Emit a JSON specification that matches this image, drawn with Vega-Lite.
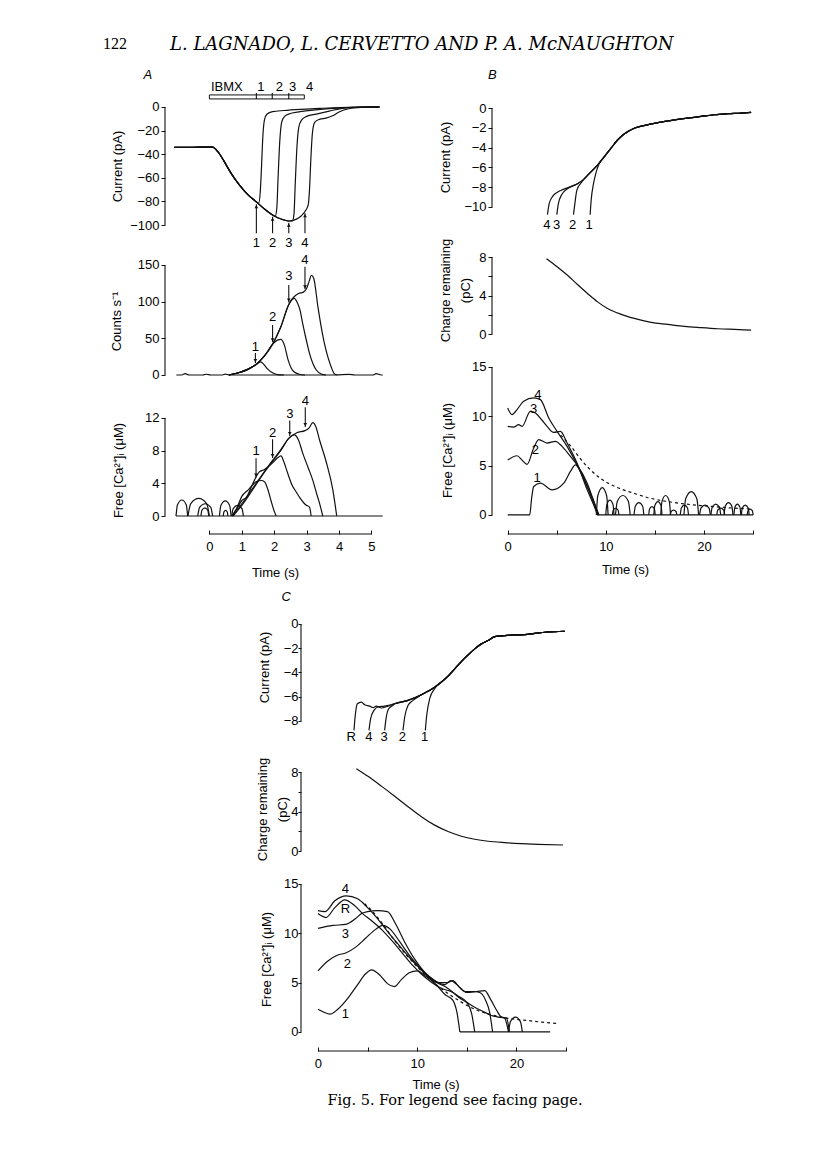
{
"$schema": "https://vega.github.io/schema/vega-lite/v6.json",
"background": "white",
"padding": {"left": 103, "top": 35, "right": 5, "bottom": 5},
"config": {
  "view": {"stroke": null},
  "font": "Liberation Sans",
  "axis": {"domain": false, "grid": false, "tickColor": "#111", "tickSize": 4, "tickWidth": 1, "labelColor": "#000", "labelFont": "Liberation Sans", "labelFontSize": 13, "labelPadding": 2, "titleColor": "#000", "titleFont": "Liberation Sans", "titleFontSize": 13, "titleFontWeight": "normal", "labelOverlap": false, "labelFlush": false, "titleLineHeight": 20},
  "axisY": {"titleBaseline": "middle"},
  "axisX": {"tickSize": -4, "labelPadding": 10, "titleBaseline": "middle"},
  "line": {"color": "#111", "strokeWidth": 1.2, "interpolate": "monotone"},
  "rule": {"color": "#111", "strokeWidth": 1.1},
  "text": {"font": "Liberation Sans", "fontSize": 13, "color": "#000", "baseline": "middle", "align": "center"}
},
"datasets": {
  "aCur": [
    {"s":"1","t":-1.08,"v":-34.2},{"s":"1","t":-0.5,"v":-34.1},{"s":"1","t":0.1,"v":-34},{"s":"1","t":0.26,"v":-37.9},{"s":"1","t":0.46,"v":-46.3},{"s":"1","t":0.67,"v":-56.2},{"s":"1","t":0.93,"v":-66.1},{"s":"1","t":1.18,"v":-74},{"s":"1","t":1.44,"v":-80.2},{"s":"1","t":1.52,"v":-81.5},{"s":"1","t":1.57,"v":-72},{"s":"1","t":1.61,"v":-50},{"s":"1","t":1.65,"v":-25},{"s":"1","t":1.7,"v":-11},{"s":"1","t":1.78,"v":-6},{"s":"1","t":1.95,"v":-4},{"s":"1","t":2.3,"v":-3},{"s":"1","t":2.8,"v":-2},{"s":"1","t":3.4,"v":-1.2},{"s":"1","t":4,"v":-0.5},{"s":"1","t":4.6,"v":-0.1},{"s":"1","t":5.25,"v":0},
    {"s":"2","t":-1.08,"v":-34.2},{"s":"2","t":-0.5,"v":-34.1},{"s":"2","t":0.1,"v":-34},{"s":"2","t":0.26,"v":-37.9},{"s":"2","t":0.46,"v":-46.3},{"s":"2","t":0.67,"v":-56.2},{"s":"2","t":0.93,"v":-66.1},{"s":"2","t":1.18,"v":-74},{"s":"2","t":1.44,"v":-80.2},{"s":"2","t":1.7,"v":-86.4},{"s":"2","t":1.95,"v":-91.5},{"s":"2","t":2.03,"v":-92.6},{"s":"2","t":2.08,"v":-86},{"s":"2","t":2.12,"v":-60},{"s":"2","t":2.17,"v":-30},{"s":"2","t":2.23,"v":-13},{"s":"2","t":2.32,"v":-8},{"s":"2","t":2.5,"v":-5.5},{"s":"2","t":2.8,"v":-4},{"s":"2","t":3.2,"v":-2.6},{"s":"2","t":3.7,"v":-1.4},{"s":"2","t":4.2,"v":-0.6},{"s":"2","t":4.7,"v":-0.1},{"s":"2","t":5.25,"v":0},
    {"s":"3","t":-1.08,"v":-34.2},{"s":"3","t":-0.5,"v":-34.1},{"s":"3","t":0.1,"v":-34},{"s":"3","t":0.26,"v":-37.9},{"s":"3","t":0.46,"v":-46.3},{"s":"3","t":0.67,"v":-56.2},{"s":"3","t":0.93,"v":-66.1},{"s":"3","t":1.18,"v":-74},{"s":"3","t":1.44,"v":-80.2},{"s":"3","t":1.7,"v":-86.4},{"s":"3","t":1.95,"v":-91.5},{"s":"3","t":2.21,"v":-94.9},{"s":"3","t":2.47,"v":-96.6},{"s":"3","t":2.56,"v":-96.5},{"s":"3","t":2.61,"v":-91},{"s":"3","t":2.65,"v":-65},{"s":"3","t":2.7,"v":-35},{"s":"3","t":2.76,"v":-17},{"s":"3","t":2.85,"v":-11},{"s":"3","t":3,"v":-8},{"s":"3","t":3.3,"v":-6},{"s":"3","t":3.7,"v":-3.5},{"s":"3","t":4.1,"v":-1.2},{"s":"3","t":4.5,"v":-0.3},{"s":"3","t":5.25,"v":0},
    {"s":"4","t":-1.08,"v":-34.2},{"s":"4","t":-0.5,"v":-34.1},{"s":"4","t":0.1,"v":-34},{"s":"4","t":0.26,"v":-37.9},{"s":"4","t":0.46,"v":-46.3},{"s":"4","t":0.67,"v":-56.2},{"s":"4","t":0.93,"v":-66.1},{"s":"4","t":1.18,"v":-74},{"s":"4","t":1.44,"v":-80.2},{"s":"4","t":1.7,"v":-86.4},{"s":"4","t":1.95,"v":-91.5},{"s":"4","t":2.21,"v":-94.9},{"s":"4","t":2.47,"v":-96.6},{"s":"4","t":2.67,"v":-95.2},{"s":"4","t":2.83,"v":-92.4},{"s":"4","t":2.98,"v":-87.3},{"s":"4","t":3.05,"v":-83},{"s":"4","t":3.09,"v":-70},{"s":"4","t":3.13,"v":-45},{"s":"4","t":3.18,"v":-22},{"s":"4","t":3.25,"v":-13},{"s":"4","t":3.4,"v":-10.5},{"s":"4","t":3.6,"v":-9.5},{"s":"4","t":3.8,"v":-7.5},{"s":"4","t":4,"v":-4.3},{"s":"4","t":4.3,"v":-1.5},{"s":"4","t":4.7,"v":-0.4},{"s":"4","t":5.25,"v":0}
  ],
  "aCurBar": [{"t":0,"t2":2.93,"v":6.8,"v2":10.2}],
  "aCurBarTicks": [{"t":1.45,"v":6.8,"v2":11.8},{"t":1.94,"v":6.8,"v2":11.8},{"t":2.45,"v":6.8,"v2":11.8}],
  "aCurArrows": [{"t":1.45,"v":-107,"v2":-82.5},{"t":1.95,"v":-107,"v2":-93},{"t":2.45,"v":-107,"v2":-98},{"t":2.95,"v":-107,"v2":-90}],
  "aCurHeads": [{"t":1.45,"v":-84.5},{"t":1.95,"v":-95},{"t":2.45,"v":-100},{"t":2.95,"v":-92}],
  "aCurText": [{"t":1.45,"v":-115.5,"label":"1"},{"t":1.95,"v":-115.5,"label":"2"},{"t":2.45,"v":-115.5,"label":"3"},{"t":2.95,"v":-115.5,"label":"4"},{"t":0.54,"v":17.2,"label":"IBMX"},{"t":1.59,"v":17.2,"label":"1"},{"t":2.16,"v":17.2,"label":"2"},{"t":2.57,"v":17.2,"label":"3"},{"t":3.09,"v":17.2,"label":"4"}],
  "aCnt": [
    {"s":"b","t":-1.02,"v":0},{"s":"b","t":-0.85,"v":0},{"s":"b","t":-0.75,"v":1.8},{"s":"b","t":-0.62,"v":0},{"s":"b","t":-0.2,"v":0},{"s":"b","t":-0.1,"v":1},{"s":"b","t":0.05,"v":0},{"s":"b","t":0.4,"v":0},{"s":"b","t":0.5,"v":1.2},{"s":"b","t":0.6,"v":0},{"s":"b","t":3.9,"v":0},{"s":"b","t":4.3,"v":0.8},{"s":"b","t":4.5,"v":0},{"s":"b","t":5.05,"v":0},{"s":"b","t":5.15,"v":2},{"s":"b","t":5.3,"v":0},{"s":"b","t":5.35,"v":0},
    {"s":"1","t":0.6,"v":0},{"s":"1","t":0.9,"v":3},{"s":"1","t":1.2,"v":8},{"s":"1","t":1.42,"v":13.6},{"s":"1","t":1.58,"v":18},{"s":"1","t":1.68,"v":14.5},{"s":"1","t":1.8,"v":8},{"s":"1","t":1.95,"v":3},{"s":"1","t":2.1,"v":0.5},{"s":"1","t":2.3,"v":0},
    {"s":"2","t":0.6,"v":0},{"s":"2","t":0.9,"v":3},{"s":"2","t":1.2,"v":8},{"s":"2","t":1.42,"v":13.6},{"s":"2","t":1.7,"v":26},{"s":"2","t":1.95,"v":42},{"s":"2","t":2.1,"v":47.5},{"s":"2","t":2.21,"v":48.7},{"s":"2","t":2.32,"v":40},{"s":"2","t":2.42,"v":22},{"s":"2","t":2.52,"v":10},{"s":"2","t":2.62,"v":4},{"s":"2","t":2.78,"v":1},{"s":"2","t":2.95,"v":0},
    {"s":"3","t":0.6,"v":0},{"s":"3","t":0.9,"v":3},{"s":"3","t":1.2,"v":8},{"s":"3","t":1.42,"v":13.6},{"s":"3","t":1.7,"v":26},{"s":"3","t":1.95,"v":42},{"s":"3","t":2.2,"v":65},{"s":"3","t":2.45,"v":96},{"s":"3","t":2.55,"v":103},{"s":"3","t":2.62,"v":104.6},{"s":"3","t":2.7,"v":100},{"s":"3","t":2.8,"v":88},{"s":"3","t":2.88,"v":70},{"s":"3","t":3,"v":46},{"s":"3","t":3.09,"v":29.5},{"s":"3","t":3.2,"v":15},{"s":"3","t":3.3,"v":6.8},{"s":"3","t":3.45,"v":1.4},{"s":"3","t":3.6,"v":0},
    {"s":"4","t":0.6,"v":0},{"s":"4","t":0.9,"v":3},{"s":"4","t":1.2,"v":8},{"s":"4","t":1.42,"v":13.6},{"s":"4","t":1.7,"v":26},{"s":"4","t":1.95,"v":42},{"s":"4","t":2.2,"v":65},{"s":"4","t":2.45,"v":96},{"s":"4","t":2.6,"v":106},{"s":"4","t":2.75,"v":111},{"s":"4","t":2.9,"v":113},{"s":"4","t":3,"v":118},{"s":"4","t":3.08,"v":128},{"s":"4","t":3.15,"v":136},{"s":"4","t":3.22,"v":132},{"s":"4","t":3.35,"v":93},{"s":"4","t":3.45,"v":66},{"s":"4","t":3.55,"v":43},{"s":"4","t":3.66,"v":24},{"s":"4","t":3.76,"v":11},{"s":"4","t":3.86,"v":1.5},{"s":"4","t":3.95,"v":0}
  ],
  "aCntArrows": [{"t":1.42,"v":30,"v2":16.5},{"t":1.95,"v":68,"v2":45},{"t":2.45,"v":122.7,"v2":99},{"t":2.95,"v":147.7,"v2":117}],
  "aCntHeads": [{"t":1.42,"v":19.5},{"t":1.95,"v":48},{"t":2.45,"v":102},{"t":2.95,"v":120}],
  "aCntText": [{"t":1.42,"v":38.6,"label":"1"},{"t":1.95,"v":79.5,"label":"2"},{"t":2.45,"v":135,"label":"3"},{"t":2.95,"v":156.8,"label":"4"}],
  "aCa": [
    {"s":"b","t":-1.03,"v":0},{"s":"b","t":5.35,"v":0},
    {"s":"n1","t":-1.03,"v":0},{"s":"n1","t":-0.985,"v":1.37},{"s":"n1","t":-0.85,"v":1.96},{"s":"n1","t":-0.715,"v":1.37},{"s":"n1","t":-0.67,"v":0},
    {"s":"n2","t":-0.66,"v":0},{"s":"n2","t":-0.578,"v":1.5},{"s":"n2","t":-0.33,"v":2.15},{"s":"n2","t":-0.083,"v":1.5},{"s":"n2","t":0,"v":0},
    {"s":"n3","t":-0.36,"v":0},{"s":"n3","t":-0.303,"v":1.05},{"s":"n3","t":-0.13,"v":1.5},{"s":"n3","t":0.043,"v":1.05},{"s":"n3","t":0.1,"v":0},
    {"s":"n4","t":-0.26,"v":0},{"s":"n4","t":-0.23,"v":0.7},{"s":"n4","t":-0.14,"v":1},{"s":"n4","t":-0.05,"v":0.7},{"s":"n4","t":-0.02,"v":0},
    {"s":"n5","t":0.31,"v":0},{"s":"n5","t":0.355,"v":1.3},{"s":"n5","t":0.49,"v":1.85},{"s":"n5","t":0.625,"v":1.3},{"s":"n5","t":0.67,"v":0},
    {"s":"n6","t":0.43,"v":0},{"s":"n6","t":0.448,"v":0.49},{"s":"n6","t":0.5,"v":0.7},{"s":"n6","t":0.553,"v":0.49},{"s":"n6","t":0.57,"v":0},
    {"s":"n7","t":0.69,"v":0},{"s":"n7","t":0.735,"v":0.91},{"s":"n7","t":0.87,"v":1.3},{"s":"n7","t":1.005,"v":0.91},{"s":"n7","t":1.05,"v":0},
    {"s":"1","t":0.7,"v":0},{"s":"1","t":0.85,"v":1},{"s":"1","t":1,"v":2.4},{"s":"1","t":1.2,"v":3.2},{"s":"1","t":1.44,"v":4.2},{"s":"1","t":1.6,"v":4.35},{"s":"1","t":1.7,"v":4.2},{"s":"1","t":1.8,"v":3.3},{"s":"1","t":1.9,"v":1.9},{"s":"1","t":2,"v":0.6},{"s":"1","t":2.06,"v":0},
    {"s":"2","t":0.7,"v":0},{"s":"2","t":0.85,"v":0.9},{"s":"2","t":1,"v":1.9},{"s":"2","t":1.15,"v":2.3},{"s":"2","t":1.3,"v":3.6},{"s":"2","t":1.54,"v":5.4},{"s":"2","t":1.7,"v":5.7},{"s":"2","t":1.95,"v":6.5},{"s":"2","t":2.1,"v":7.1},{"s":"2","t":2.21,"v":7.35},{"s":"2","t":2.3,"v":6.6},{"s":"2","t":2.42,"v":5.2},{"s":"2","t":2.55,"v":3.8},{"s":"2","t":2.67,"v":3},{"s":"2","t":2.8,"v":2.2},{"s":"2","t":2.98,"v":1.35},{"s":"2","t":3.09,"v":1.1},{"s":"2","t":3.14,"v":0},
    {"s":"3","t":0.72,"v":0},{"s":"3","t":1,"v":1.3},{"s":"3","t":1.3,"v":3},{"s":"3","t":1.6,"v":4.8},{"s":"3","t":1.95,"v":6.7},{"s":"3","t":2.2,"v":8},{"s":"3","t":2.45,"v":9.5},{"s":"3","t":2.62,"v":9.92},{"s":"3","t":2.75,"v":9.3},{"s":"3","t":2.88,"v":7.7},{"s":"3","t":3.04,"v":6},{"s":"3","t":3.19,"v":4.4},{"s":"3","t":3.32,"v":2.6},{"s":"3","t":3.4,"v":1.55},{"s":"3","t":3.5,"v":0},
    {"s":"4","t":0.74,"v":0},{"s":"4","t":1,"v":1.5},{"s":"4","t":1.3,"v":3.2},{"s":"4","t":1.6,"v":4.9},{"s":"4","t":1.95,"v":6.8},{"s":"4","t":2.2,"v":8.1},{"s":"4","t":2.45,"v":9.5},{"s":"4","t":2.7,"v":10.2},{"s":"4","t":2.95,"v":10.45},{"s":"4","t":3.08,"v":10.8},{"s":"4","t":3.19,"v":11.43},{"s":"4","t":3.28,"v":11},{"s":"4","t":3.4,"v":9.3},{"s":"4","t":3.6,"v":6.7},{"s":"4","t":3.81,"v":3.2},{"s":"4","t":3.93,"v":0}
  ],
  "aCaArrows": [{"t":1.44,"v":7.06,"v2":4.7},{"t":1.95,"v":9.4,"v2":7.1},{"t":2.48,"v":11.7,"v2":9.8},{"t":2.96,"v":13.3,"v2":10.9}],
  "aCaHeads": [{"t":1.44,"v":5},{"t":1.95,"v":7.4},{"t":2.48,"v":10.1},{"t":2.96,"v":11.2}],
  "aCaText": [{"t":1.44,"v":8,"label":"1"},{"t":1.95,"v":10.2,"label":"2"},{"t":2.48,"v":12.5,"label":"3"},{"t":2.96,"v":14.1,"label":"4"}],
  "bCur": [
    {"s":"4","t":4.05,"v":-10.78},{"s":"4","t":4.22,"v":-9.69},{"s":"4","t":4.56,"v":-8.95},{"s":"4","t":5.07,"v":-8.5},{"s":"4","t":5.41,"v":-8.33},{"s":"4","t":6.09,"v":-8.06},{"s":"4","t":7.11,"v":-7.65},{"s":"4","t":7.62,"v":-7.31},{"s":"4","t":8.13,"v":-6.8},{"s":"4","t":8.64,"v":-6.29},{"s":"4","t":9.15,"v":-5.78},{"s":"4","t":9.83,"v":-4.93},{"s":"4","t":10.51,"v":-4.08},{"s":"4","t":11.19,"v":-3.23},{"s":"4","t":11.87,"v":-2.62},{"s":"4","t":12.89,"v":-2.04},{"s":"4","t":14.25,"v":-1.7},{"s":"4","t":15.6,"v":-1.43},{"s":"4","t":16.97,"v":-1.19},{"s":"4","t":18.33,"v":-1.02},{"s":"4","t":19.69,"v":-0.85},{"s":"4","t":21.05,"v":-0.68},{"s":"4","t":22.41,"v":-0.58},{"s":"4","t":23.78,"v":-0.51},{"s":"4","t":24.8,"v":-0.44},
    {"s":"3","t":5,"v":-10.78},{"s":"3","t":5.16,"v":-9.69},{"s":"3","t":5.51,"v":-8.74},{"s":"3","t":6.09,"v":-8.15},{"s":"3","t":7.11,"v":-7.65},{"s":"3","t":7.62,"v":-7.31},{"s":"3","t":8.13,"v":-6.8},{"s":"3","t":8.64,"v":-6.29},{"s":"3","t":9.15,"v":-5.78},{"s":"3","t":9.83,"v":-4.93},{"s":"3","t":10.51,"v":-4.08},{"s":"3","t":11.19,"v":-3.23},{"s":"3","t":11.87,"v":-2.62},{"s":"3","t":12.89,"v":-2.04},{"s":"3","t":14.25,"v":-1.7},{"s":"3","t":15.6,"v":-1.43},{"s":"3","t":16.97,"v":-1.19},{"s":"3","t":18.33,"v":-1.02},{"s":"3","t":19.69,"v":-0.85},{"s":"3","t":21.05,"v":-0.68},{"s":"3","t":22.41,"v":-0.58},{"s":"3","t":23.78,"v":-0.51},{"s":"3","t":24.8,"v":-0.44},
    {"s":"2","t":6.7,"v":-10.78},{"s":"2","t":6.84,"v":-9.69},{"s":"2","t":7.04,"v":-8.33},{"s":"2","t":7.45,"v":-7.6},{"s":"2","t":8.13,"v":-6.8},{"s":"2","t":8.64,"v":-6.29},{"s":"2","t":9.15,"v":-5.78},{"s":"2","t":9.83,"v":-4.93},{"s":"2","t":10.51,"v":-4.08},{"s":"2","t":11.19,"v":-3.23},{"s":"2","t":11.87,"v":-2.62},{"s":"2","t":12.89,"v":-2.04},{"s":"2","t":14.25,"v":-1.7},{"s":"2","t":15.6,"v":-1.43},{"s":"2","t":16.97,"v":-1.19},{"s":"2","t":18.33,"v":-1.02},{"s":"2","t":19.69,"v":-0.85},{"s":"2","t":21.05,"v":-0.68},{"s":"2","t":22.41,"v":-0.58},{"s":"2","t":23.78,"v":-0.51},{"s":"2","t":24.8,"v":-0.44},
    {"s":"1","t":8.4,"v":-10.78},{"s":"1","t":8.5,"v":-9.35},{"s":"1","t":8.74,"v":-7.65},{"s":"1","t":8.97,"v":-6.63},{"s":"1","t":9.32,"v":-5.6},{"s":"1","t":9.83,"v":-4.93},{"s":"1","t":10.51,"v":-4.08},{"s":"1","t":11.19,"v":-3.23},{"s":"1","t":11.87,"v":-2.62},{"s":"1","t":12.89,"v":-2.04},{"s":"1","t":14.25,"v":-1.7},{"s":"1","t":15.6,"v":-1.43},{"s":"1","t":16.97,"v":-1.19},{"s":"1","t":18.33,"v":-1.02},{"s":"1","t":19.69,"v":-0.85},{"s":"1","t":21.05,"v":-0.68},{"s":"1","t":22.41,"v":-0.58},{"s":"1","t":23.78,"v":-0.51},{"s":"1","t":24.8,"v":-0.44}
  ],
  "bCurText": [{"t":3.99,"v":-11.8,"label":"4"},{"t":4.97,"v":-11.8,"label":"3"},{"t":6.6,"v":-11.8,"label":"2"},{"t":8.3,"v":-11.8,"label":"1"}],
  "bQ": [{"s":"q","t":3.95,"v":7.83},{"s":"q","t":5.07,"v":6.97},{"s":"q","t":6.09,"v":6.1},{"s":"q","t":7.11,"v":5.14},{"s":"q","t":8.13,"v":4.21},{"s":"q","t":9.15,"v":3.34},{"s":"q","t":10.17,"v":2.66},{"s":"q","t":11.5,"v":2.07},{"s":"q","t":12.9,"v":1.62},{"s":"q","t":14.6,"v":1.21},{"s":"q","t":16.3,"v":1},{"s":"q","t":18,"v":0.79},{"s":"q","t":19.7,"v":0.66},{"s":"q","t":21.4,"v":0.55},{"s":"q","t":23.1,"v":0.48},{"s":"q","t":24.8,"v":0.41}],
  "bCa": [
    {"s":"4","t":0,"v":10.85},{"s":"4","t":0.44,"v":10.17},{"s":"4","t":0.95,"v":10.68},{"s":"4","t":1.63,"v":11.53},{"s":"4","t":2.65,"v":11.86},{"s":"4","t":3.33,"v":11.69},{"s":"4","t":4.18,"v":9.83},{"s":"4","t":5.03,"v":8.47},{"s":"4","t":6.05,"v":6.95},{"s":"4","t":7.07,"v":5.08},{"s":"4","t":8.1,"v":2.88},{"s":"4","t":8.95,"v":0.85},{"s":"4","t":9.18,"v":0},
    {"s":"3","t":0,"v":8.98},{"s":"3","t":0.6,"v":8.9},{"s":"3","t":1.12,"v":9.15},{"s":"3","t":1.46,"v":8.98},{"s":"3","t":2.31,"v":10.5},{"s":"3","t":2.82,"v":10.34},{"s":"3","t":3.5,"v":9.6},{"s":"3","t":4.01,"v":8.98},{"s":"3","t":4.69,"v":8.37},{"s":"3","t":5.37,"v":8.47},{"s":"3","t":6.05,"v":7.29},{"s":"3","t":7.07,"v":5.25},{"s":"3","t":8.1,"v":2.54},{"s":"3","t":8.95,"v":0.51},{"s":"3","t":9.12,"v":0},
    {"s":"2","t":0,"v":5.56},{"s":"2","t":0.95,"v":6},{"s":"2","t":1.46,"v":5.56},{"s":"2","t":1.97,"v":5.12},{"s":"2","t":2.65,"v":6.78},{"s":"2","t":3.16,"v":7.63},{"s":"2","t":4.01,"v":7.29},{"s":"2","t":4.86,"v":7.46},{"s":"2","t":5.54,"v":6.95},{"s":"2","t":6.39,"v":5.93},{"s":"2","t":7.07,"v":5.08},{"s":"2","t":8.1,"v":3.22},{"s":"2","t":8.78,"v":1.36},{"s":"2","t":9.29,"v":0},
    {"s":"1","t":0,"v":0},{"s":"1","t":2.24,"v":0},{"s":"1","t":2.45,"v":1.8},{"s":"1","t":2.65,"v":2.88},{"s":"1","t":3.33,"v":3.22},{"s":"1","t":4.52,"v":2.54},{"s":"1","t":5.71,"v":3.22},{"s":"1","t":6.39,"v":4.41},{"s":"1","t":6.9,"v":5.08},{"s":"1","t":7.41,"v":4.41},{"s":"1","t":8.1,"v":2.88},{"s":"1","t":8.78,"v":1.19},{"s":"1","t":9.29,"v":0},
    {"s":"b","t":9.1,"v":0},{"s":"b","t":25,"v":0},
    {"s":"a","t":9.03,"v":0},{"s":"a","t":9.18,"v":1.95},{"s":"a","t":9.63,"v":2.78},{"s":"a","t":10.08,"v":1.95},{"s":"a","t":10.23,"v":0},
    {"s":"bb","t":9.99,"v":0},{"s":"bb","t":10.1,"v":1.05},{"s":"bb","t":10.41,"v":1.5},{"s":"bb","t":10.73,"v":1.05},{"s":"bb","t":10.83,"v":0},
    {"s":"c","t":10.98,"v":0},{"s":"c","t":11.17,"v":1.38},{"s":"c","t":11.73,"v":1.97},{"s":"c","t":12.29,"v":1.38},{"s":"c","t":12.48,"v":0},
    {"s":"d","t":10.67,"v":0},{"s":"d","t":10.75,"v":0.48},{"s":"d","t":11,"v":0.68},{"s":"d","t":11.25,"v":0.48},{"s":"d","t":11.33,"v":0},
    {"s":"e","t":12.87,"v":0},{"s":"e","t":13,"v":0.88},{"s":"e","t":13.37,"v":1.25},{"s":"e","t":13.75,"v":0.88},{"s":"e","t":13.87,"v":0},
    {"s":"f","t":14.37,"v":0},{"s":"f","t":14.45,"v":0.6},{"s":"f","t":14.7,"v":0.85},{"s":"f","t":14.95,"v":0.6},{"s":"f","t":15.03,"v":0},
    {"s":"g","t":14.88,"v":0},{"s":"g","t":14.99,"v":0.95},{"s":"g","t":15.3,"v":1.36},{"s":"g","t":15.62,"v":0.95},{"s":"g","t":15.72,"v":0},
    {"s":"h","t":15.59,"v":0},{"s":"h","t":15.72,"v":1.38},{"s":"h","t":16.09,"v":1.97},{"s":"h","t":16.46,"v":1.38},{"s":"h","t":16.59,"v":0},
    {"s":"i","t":16.57,"v":0},{"s":"i","t":16.65,"v":0.35},{"s":"i","t":16.9,"v":0.5},{"s":"i","t":17.15,"v":0.35},{"s":"i","t":17.23,"v":0},
    {"s":"j","t":17.58,"v":0},{"s":"j","t":17.69,"v":0.7},{"s":"j","t":18,"v":1},{"s":"j","t":18.32,"v":0.7},{"s":"j","t":18.42,"v":0},
    {"s":"k","t":17.95,"v":0},{"s":"k","t":18.14,"v":1.66},{"s":"k","t":18.7,"v":2.37},{"s":"k","t":19.26,"v":1.66},{"s":"k","t":19.45,"v":0},
    {"s":"l","t":19.55,"v":0},{"s":"l","t":19.69,"v":0.7},{"s":"l","t":20.1,"v":1},{"s":"l","t":20.51,"v":0.7},{"s":"l","t":20.65,"v":0},
    {"s":"m","t":20.7,"v":0},{"s":"m","t":20.83,"v":0.77},{"s":"m","t":21.2,"v":1.1},{"s":"m","t":21.58,"v":0.77},{"s":"m","t":21.7,"v":0},
    {"s":"q","t":21.3,"v":0},{"s":"q","t":21.4,"v":0.49},{"s":"q","t":21.7,"v":0.7},{"s":"q","t":22,"v":0.49},{"s":"q","t":22.1,"v":0},
    {"s":"n","t":22.05,"v":0},{"s":"n","t":22.16,"v":0.88},{"s":"n","t":22.5,"v":1.25},{"s":"n","t":22.84,"v":0.88},{"s":"n","t":22.95,"v":0},
    {"s":"o","t":23.05,"v":0},{"s":"o","t":23.14,"v":0.77},{"s":"o","t":23.4,"v":1.1},{"s":"o","t":23.66,"v":0.77},{"s":"o","t":23.75,"v":0},
    {"s":"p","t":23.8,"v":0},{"s":"p","t":23.9,"v":0.7},{"s":"p","t":24.2,"v":1},{"s":"p","t":24.5,"v":0.7},{"s":"p","t":24.6,"v":0},
    {"s":"r","t":24.4,"v":0},{"s":"r","t":24.48,"v":0.42},{"s":"r","t":24.7,"v":0.6},{"s":"r","t":24.93,"v":0.42},{"s":"r","t":25,"v":0}
  ],
  "bCaDash": [{"t":5.4,"v":8.1},{"t":6.4,"v":7},{"t":7.4,"v":5.7},{"t":8.4,"v":4.6},{"t":9.46,"v":3.7},{"t":11,"v":2.85},{"t":12.86,"v":2.2},{"t":14.5,"v":1.7},{"t":16.3,"v":1.36},{"t":18,"v":1.12},{"t":19.7,"v":0.95},{"t":22,"v":0.76},{"t":24.8,"v":0.61}],
  "bCaText": [{"t":3.06,"v":12.2,"label":"4"},{"t":2.65,"v":10.75,"label":"3"},{"t":2.82,"v":6.61,"label":"2"},{"t":2.99,"v":3.73,"label":"1"}],
  "cCur": [
    {"s":"R","t":3.63,"v":-8.77},{"s":"R","t":3.76,"v":-7.53},{"s":"R","t":3.97,"v":-6.58},{"s":"R","t":4.37,"v":-6.44},{"s":"R","t":4.71,"v":-6.66},{"s":"R","t":5.21,"v":-6.77},{"s":"R","t":5.55,"v":-6.9},{"s":"R","t":5.88,"v":-6.77},{"s":"R","t":6.39,"v":-6.93},{"s":"R","t":7.06,"v":-6.77},{"s":"R","t":7.73,"v":-6.58},{"s":"R","t":9.08,"v":-6.3},{"s":"R","t":10.42,"v":-5.84},{"s":"R","t":11.76,"v":-5.21},{"s":"R","t":12.44,"v":-4.79},{"s":"R","t":13.11,"v":-4.3},{"s":"R","t":13.78,"v":-3.7},{"s":"R","t":14.45,"v":-3.1},{"s":"R","t":15.13,"v":-2.55},{"s":"R","t":15.8,"v":-2.05},{"s":"R","t":16.47,"v":-1.64},{"s":"R","t":17.14,"v":-1.37},{"s":"R","t":17.82,"v":-1.04},{"s":"R","t":18.82,"v":-0.96},{"s":"R","t":19.83,"v":-0.9},{"s":"R","t":20.84,"v":-0.88},{"s":"R","t":21.85,"v":-0.77},{"s":"R","t":22.86,"v":-0.68},{"s":"R","t":23.87,"v":-0.63},{"s":"R","t":24.87,"v":-0.6},
    {"s":"4","t":5.14,"v":-8.77},{"s":"4","t":5.31,"v":-7.81},{"s":"4","t":5.65,"v":-7.12},{"s":"4","t":6.05,"v":-6.85},{"s":"4","t":6.72,"v":-6.77},{"s":"4","t":7.39,"v":-6.66},{"s":"4","t":7.73,"v":-6.58},{"s":"4","t":9.08,"v":-6.3},{"s":"4","t":10.42,"v":-5.84},{"s":"4","t":11.76,"v":-5.21},{"s":"4","t":12.44,"v":-4.79},{"s":"4","t":13.11,"v":-4.3},{"s":"4","t":13.78,"v":-3.7},{"s":"4","t":14.45,"v":-3.1},{"s":"4","t":15.13,"v":-2.55},{"s":"4","t":15.8,"v":-2.05},{"s":"4","t":16.47,"v":-1.64},{"s":"4","t":17.14,"v":-1.37},{"s":"4","t":17.82,"v":-1.04},{"s":"4","t":18.82,"v":-0.96},{"s":"4","t":19.83,"v":-0.9},{"s":"4","t":20.84,"v":-0.88},{"s":"4","t":21.85,"v":-0.77},{"s":"4","t":22.86,"v":-0.68},{"s":"4","t":23.87,"v":-0.63},{"s":"4","t":24.87,"v":-0.6},
    {"s":"3","t":6.72,"v":-8.77},{"s":"3","t":6.86,"v":-7.81},{"s":"3","t":7.13,"v":-6.99},{"s":"3","t":7.56,"v":-6.71},{"s":"3","t":7.73,"v":-6.58},{"s":"3","t":9.08,"v":-6.3},{"s":"3","t":10.42,"v":-5.84},{"s":"3","t":11.76,"v":-5.21},{"s":"3","t":12.44,"v":-4.79},{"s":"3","t":13.11,"v":-4.3},{"s":"3","t":13.78,"v":-3.7},{"s":"3","t":14.45,"v":-3.1},{"s":"3","t":15.13,"v":-2.55},{"s":"3","t":15.8,"v":-2.05},{"s":"3","t":16.47,"v":-1.64},{"s":"3","t":17.14,"v":-1.37},{"s":"3","t":17.82,"v":-1.04},{"s":"3","t":18.82,"v":-0.96},{"s":"3","t":19.83,"v":-0.9},{"s":"3","t":20.84,"v":-0.88},{"s":"3","t":21.85,"v":-0.77},{"s":"3","t":22.86,"v":-0.68},{"s":"3","t":23.87,"v":-0.63},{"s":"3","t":24.87,"v":-0.6},
    {"s":"2","t":8.57,"v":-8.77},{"s":"2","t":8.74,"v":-7.67},{"s":"2","t":9.08,"v":-6.71},{"s":"2","t":9.58,"v":-6.3},{"s":"2","t":10.42,"v":-5.84},{"s":"2","t":11.76,"v":-5.21},{"s":"2","t":12.44,"v":-4.79},{"s":"2","t":13.11,"v":-4.3},{"s":"2","t":13.78,"v":-3.7},{"s":"2","t":14.45,"v":-3.1},{"s":"2","t":15.13,"v":-2.55},{"s":"2","t":15.8,"v":-2.05},{"s":"2","t":16.47,"v":-1.64},{"s":"2","t":17.14,"v":-1.37},{"s":"2","t":17.82,"v":-1.04},{"s":"2","t":18.82,"v":-0.96},{"s":"2","t":19.83,"v":-0.9},{"s":"2","t":20.84,"v":-0.88},{"s":"2","t":21.85,"v":-0.77},{"s":"2","t":22.86,"v":-0.68},{"s":"2","t":23.87,"v":-0.63},{"s":"2","t":24.87,"v":-0.6},
    {"s":"1","t":10.82,"v":-8.77},{"s":"1","t":10.96,"v":-7.53},{"s":"1","t":11.26,"v":-6.16},{"s":"1","t":11.76,"v":-5.34},{"s":"1","t":12.44,"v":-4.79},{"s":"1","t":13.11,"v":-4.3},{"s":"1","t":13.78,"v":-3.7},{"s":"1","t":14.45,"v":-3.1},{"s":"1","t":15.13,"v":-2.55},{"s":"1","t":15.8,"v":-2.05},{"s":"1","t":16.47,"v":-1.64},{"s":"1","t":17.14,"v":-1.37},{"s":"1","t":17.82,"v":-1.04},{"s":"1","t":18.82,"v":-0.96},{"s":"1","t":19.83,"v":-0.9},{"s":"1","t":20.84,"v":-0.88},{"s":"1","t":21.85,"v":-0.77},{"s":"1","t":22.86,"v":-0.68},{"s":"1","t":23.87,"v":-0.63},{"s":"1","t":24.87,"v":-0.6}
  ],
  "cCurText": [{"t":3.36,"v":-9.3,"label":"R"},{"t":5.14,"v":-9.3,"label":"4"},{"t":6.66,"v":-9.3,"label":"3"},{"t":8.5,"v":-9.3,"label":"2"},{"t":10.76,"v":-9.3,"label":"1"}],
  "cQ": [{"s":"q","t":3.87,"v":8.34},{"s":"q","t":5.04,"v":7.56},{"s":"q","t":6.39,"v":6.57},{"s":"q","t":7.73,"v":5.55},{"s":"q","t":9.08,"v":4.49},{"s":"q","t":10.42,"v":3.47},{"s":"q","t":11.76,"v":2.62},{"s":"q","t":13.11,"v":1.97},{"s":"q","t":14.45,"v":1.5},{"s":"q","t":15.8,"v":1.19},{"s":"q","t":17.14,"v":0.99},{"s":"q","t":18.82,"v":0.85},{"s":"q","t":20.5,"v":0.75},{"s":"q","t":22.18,"v":0.68},{"s":"q","t":24.7,"v":0.61}],
  "cCa": [
    {"s":"4","t":0,"v":12.3},{"s":"4","t":0.7,"v":12.2},{"s":"4","t":1.7,"v":13.3},{"s":"4","t":2.85,"v":13.8},{"s":"4","t":4,"v":13.5},{"s":"4","t":5,"v":12.6},{"s":"4","t":6,"v":11.5},{"s":"4","t":7,"v":10.2},{"s":"4","t":8,"v":9},{"s":"4","t":9,"v":7.8},{"s":"4","t":10,"v":6.7},{"s":"4","t":11,"v":5.7},{"s":"4","t":12,"v":4.7},{"s":"4","t":12.8,"v":3.8},{"s":"4","t":13.6,"v":3.2},{"s":"4","t":14,"v":2},{"s":"4","t":14.3,"v":0},
    {"s":"R","t":0,"v":12},{"s":"R","t":0.8,"v":11.6},{"s":"R","t":1.7,"v":12.6},{"s":"R","t":2.7,"v":13.4},{"s":"R","t":3.6,"v":12.9},{"s":"R","t":4.5,"v":12},{"s":"R","t":5.5,"v":11.2},{"s":"R","t":6.5,"v":10.3},{"s":"R","t":7.5,"v":9.2},{"s":"R","t":8.5,"v":8},{"s":"R","t":9.5,"v":6.8},{"s":"R","t":10.5,"v":5.8},{"s":"R","t":11.5,"v":5},{"s":"R","t":12.5,"v":4.4},{"s":"R","t":13.4,"v":4.1},{"s":"R","t":14.2,"v":3.6},{"s":"R","t":15,"v":3},{"s":"R","t":15.5,"v":1.8},{"s":"R","t":15.8,"v":0},
    {"s":"3","t":0,"v":10.5},{"s":"3","t":1.5,"v":10.8},{"s":"3","t":2.8,"v":10.9},{"s":"3","t":3.8,"v":11.5},{"s":"3","t":4.4,"v":12},{"s":"3","t":5,"v":12.2},{"s":"3","t":6,"v":12.3},{"s":"3","t":7,"v":12.2},{"s":"3","t":7.8,"v":11},{"s":"3","t":8.8,"v":9},{"s":"3","t":9.8,"v":7.3},{"s":"3","t":10.8,"v":6},{"s":"3","t":11.8,"v":5.2},{"s":"3","t":12.8,"v":4.8},{"s":"3","t":13.4,"v":5.2},{"s":"3","t":14,"v":4.8},{"s":"3","t":14.8,"v":4.1},{"s":"3","t":15.6,"v":4.1},{"s":"3","t":16.3,"v":4},{"s":"3","t":16.9,"v":3.2},{"s":"3","t":17.3,"v":2},{"s":"3","t":17.6,"v":0},
    {"s":"2","t":0,"v":6.2},{"s":"2","t":1,"v":7.2},{"s":"2","t":2,"v":7.8},{"s":"2","t":2.8,"v":8},{"s":"2","t":3.8,"v":8.6},{"s":"2","t":4.8,"v":9.5},{"s":"2","t":5.8,"v":10.4},{"s":"2","t":6.5,"v":10.8},{"s":"2","t":7.3,"v":10.4},{"s":"2","t":8.2,"v":9.2},{"s":"2","t":9.2,"v":7.8},{"s":"2","t":10.2,"v":6.6},{"s":"2","t":11.2,"v":5.6},{"s":"2","t":12.2,"v":5},{"s":"2","t":13,"v":5},{"s":"2","t":13.6,"v":5.2},{"s":"2","t":14.2,"v":4.6},{"s":"2","t":15,"v":4},{"s":"2","t":16,"v":4.1},{"s":"2","t":16.8,"v":4.2},{"s":"2","t":17.4,"v":3.3},{"s":"2","t":18,"v":2.2},{"s":"2","t":18.5,"v":1.5},{"s":"2","t":19,"v":1.4},{"s":"2","t":19.3,"v":0},
    {"s":"1","t":0,"v":2.3},{"s":"1","t":0.6,"v":2},{"s":"1","t":1.2,"v":1.8},{"s":"1","t":2,"v":2.3},{"s":"1","t":3,"v":3.4},{"s":"1","t":4,"v":4.8},{"s":"1","t":4.8,"v":5.9},{"s":"1","t":5.4,"v":6.3},{"s":"1","t":6.2,"v":5.8},{"s":"1","t":7,"v":4.9},{"s":"1","t":7.7,"v":4.6},{"s":"1","t":8.4,"v":5.3},{"s":"1","t":9.2,"v":6},{"s":"1","t":10,"v":6.2},{"s":"1","t":10.8,"v":5.7},{"s":"1","t":11.5,"v":5.2},{"s":"1","t":12.2,"v":4.9},{"s":"1","t":12.8,"v":4.6},{"s":"1","t":13.5,"v":4.1},{"s":"1","t":14.2,"v":3.5},{"s":"1","t":15,"v":3},{"s":"1","t":15.8,"v":2.5},{"s":"1","t":16.6,"v":2.1},{"s":"1","t":17.4,"v":1.7},{"s":"1","t":18.2,"v":1.5},{"s":"1","t":18.8,"v":1.4},{"s":"1","t":19.2,"v":0},
    {"s":"arc","t":19.2,"v":0},{"s":"arc","t":19.4,"v":1.05},{"s":"arc","t":19.9,"v":1.5},{"s":"arc","t":20.4,"v":1.05},{"s":"arc","t":20.6,"v":0},
    {"s":"b","t":14.3,"v":0},{"s":"b","t":23.4,"v":0}
  ],
  "cCaDash": [{"t":4.7,"v":13},{"t":5.5,"v":12.2},{"t":6.4,"v":11.1},{"t":7.7,"v":9.3},{"t":9,"v":7.7},{"t":10.4,"v":6.2},{"t":11.8,"v":4.9},{"t":13.1,"v":3.9},{"t":14.5,"v":3},{"t":15.8,"v":2.3},{"t":17.1,"v":1.85},{"t":18.5,"v":1.5},{"t":19.8,"v":1.3},{"t":21.2,"v":1.15},{"t":22.5,"v":1},{"t":24.2,"v":0.85}],
  "cCaText": [{"t":2.76,"v":14.5,"label":"4"},{"t":2.76,"v":12.47,"label":"R"},{"t":2.76,"v":9.94,"label":"3"},{"t":2.96,"v":6.91,"label":"2"},{"t":2.76,"v":1.85,"label":"1"}]
},
"title": {"text": "122", "anchor": "start", "frame": "group", "font": "Liberation Serif", "fontSize": 16, "fontWeight": "normal", "color": "#000", "offset": 0, "dx": -62, "dy": 16},
"spacing": 9,
"vconcat": [
  {
    "title": {"text": "L. LAGNADO, L. CERVETTO AND P. A. McNAUGHTON", "anchor": "start", "frame": "group", "font": "DejaVu Serif", "fontSize": 18, "fontStyle": "italic", "fontWeight": "normal", "color": "#000", "offset": 15.5, "dx": 5},
    "spacing": 52,
    "hconcat": [
      {"bounds": "flush", "spacing": 0, "vconcat": [
        {"width": 220, "height": 166,
         "encoding": {
           "x": {"field": "t", "type": "quantitative", "scale": {"domain": [-1.37, 5.42], "nice": false, "zero": false}, "axis": null},
           "y": {"field": "v", "type": "quantitative", "scale": {"domain": [-120.3, 20.3], "nice": false, "zero": false}, "axis": {"title": "Current (pA)", "values": [0, -20, -40, -60, -80, -100], "titleX": -48, "titleY": 83}}
         },
         "layer": [
           {"data": {"name": "aCur"}, "mark": {"type": "line"}, "encoding": {"detail": {"field": "s"}}},
           {"data": {"values": [{"t": -1.37, "v": 0, "v2": -100}]}, "mark": "rule", "encoding": {"y2": {"field": "v2"}}},
           {"data": {"name": "aCurBar"}, "mark": {"type": "rect", "fill": "white", "stroke": "#111", "strokeWidth": 1}, "encoding": {"x2": {"field": "t2"}, "y2": {"field": "v2"}}},
           {"data": {"name": "aCurBarTicks"}, "mark": "rule", "encoding": {"y2": {"field": "v2"}}},
           {"data": {"name": "aCurArrows"}, "mark": "rule", "encoding": {"y2": {"field": "v2"}}},
           {"data": {"name": "aCurHeads"}, "mark": {"type": "point", "shape": "triangle-up", "filled": true, "size": 14, "color": "#111", "opacity": 1}},
           {"data": {"name": "aCurText"}, "mark": {"type": "text"}, "encoding": {"text": {"field": "label"}}},
           {"data": {"values": [{"t": -1.9, "v": 27, "label": "A"}]}, "mark": {"type": "text", "fontStyle": "italic"}, "encoding": {"text": {"field": "label"}}}
         ]},
        {"width": 220, "height": 151,
         "encoding": {
           "x": {"field": "t", "type": "quantitative", "scale": {"domain": [-1.37, 5.42], "nice": false, "zero": false}, "axis": null},
           "y": {"field": "v", "type": "quantitative", "scale": {"domain": [-34.1, 171.8], "nice": false, "zero": false}, "axis": {"title": "Counts s⁻¹", "values": [0, 50, 100, 150], "titleX": -49, "titleY": 72}}
         },
         "layer": [
           {"data": {"name": "aCnt"}, "mark": {"type": "line"}, "encoding": {"detail": {"field": "s"}}},
           {"data": {"values": [{"t": -1.37, "v": 0, "v2": 150}]}, "mark": "rule", "encoding": {"y2": {"field": "v2"}}},
           {"data": {"name": "aCntArrows"}, "mark": "rule", "encoding": {"y2": {"field": "v2"}}},
           {"data": {"name": "aCntHeads"}, "mark": {"type": "point", "shape": "triangle-down", "filled": true, "size": 14, "color": "#111", "opacity": 1}},
           {"data": {"name": "aCntText"}, "mark": {"type": "text"}, "encoding": {"text": {"field": "label"}}}
         ]},
        {"width": 220, "height": 134,
         "encoding": {
           "x": {"field": "t", "type": "quantitative", "scale": {"domain": [-1.37, 5.42], "nice": false, "zero": false}, "axis": {"title": "Time (s)", "values": [0, 1, 2, 3, 4, 5], "titleY": 38}},
           "y": {"field": "v", "type": "quantitative", "scale": {"domain": [-2.2, 14.2], "nice": false, "zero": false}, "axis": {"title": "Free [Ca²⁺]ᵢ (μM)", "values": [0, 4, 8, 12], "titleX": -47, "titleY": 70}}
         },
         "layer": [
           {"data": {"name": "aCa"}, "mark": {"type": "line"}, "encoding": {"detail": {"field": "s"}}},
           {"data": {"values": [{"t": -1.37, "v": 0, "v2": 12}]}, "mark": "rule", "encoding": {"y2": {"field": "v2"}}},
           {"data": {"values": [{"t": 0, "t2": 5, "v": -2.2}]}, "mark": "rule", "encoding": {"x2": {"field": "t2"}}},
           {"data": {"name": "aCaArrows"}, "mark": "rule", "encoding": {"y2": {"field": "v2"}}},
           {"data": {"name": "aCaHeads"}, "mark": {"type": "point", "shape": "triangle-down", "filled": true, "size": 14, "color": "#111", "opacity": 1}},
           {"data": {"name": "aCaText"}, "mark": {"type": "text"}, "encoding": {"text": {"field": "label"}}}
         ]}
      ]},
      {"bounds": "flush", "spacing": 0, "vconcat": [
        {"width": 266, "height": 149,
         "encoding": {
           "x": {"field": "t", "type": "quantitative", "scale": {"domain": [-1.6, 25.5], "nice": false, "zero": false}, "axis": null},
           "y": {"field": "v", "type": "quantitative", "scale": {"domain": [-12.53, 2.53], "nice": false, "zero": false}, "axis": {"title": "Current (pA)", "values": [0, -2, -4, -6, -8, -10], "titleX": -47, "titleY": 74}}
         },
         "layer": [
           {"data": {"name": "bCur"}, "mark": {"type": "line"}, "encoding": {"detail": {"field": "s"}}},
           {"data": {"values": [{"t": -1.6, "v": 0, "v2": -10}]}, "mark": "rule", "encoding": {"y2": {"field": "v2"}}},
           {"data": {"name": "bCurText"}, "mark": {"type": "text"}, "encoding": {"text": {"field": "label"}}},
           {"data": {"values": [{"t": -1.56, "v": 3.3, "label": "B"}]}, "mark": {"type": "text", "fontStyle": "italic"}, "encoding": {"text": {"field": "label"}}}
         ]},
        {"width": 266, "height": 118,
         "encoding": {
           "x": {"field": "t", "type": "quantitative", "scale": {"domain": [-1.6, 25.5], "nice": false, "zero": false}, "axis": null},
           "y": {"field": "v", "type": "quantitative", "scale": {"domain": [-1.66, 10.6], "nice": false, "zero": false}, "axis": {"title": ["Charge remaining", "(pC)"], "values": [0, 2, 4, 6, 8], "labelExpr": "datum.value % 4 === 0 ? datum.label : ''", "titleX": -47, "titleY": 58}}
         },
         "layer": [
           {"data": {"name": "bQ"}, "mark": {"type": "line"}, "encoding": {"detail": {"field": "s"}}},
           {"data": {"values": [{"t": -1.6, "v": 0, "v2": 8}]}, "mark": "rule", "encoding": {"y2": {"field": "v2"}}}
         ]},
        {"width": 266, "height": 184,
         "encoding": {
           "x": {"field": "t", "type": "quantitative", "scale": {"domain": [-1.6, 25.5], "nice": false, "zero": false}, "axis": {"title": "Time (s)", "values": [0, 5, 10, 15, 20, 25], "labelExpr": "datum.value % 10 === 0 ? datum.label : ''", "titleY": 35}},
           "y": {"field": "v", "type": "quantitative", "scale": {"domain": [-1.93, 16.72], "nice": false, "zero": false}, "axis": {"title": "Free [Ca²⁺]ᵢ (μM)", "values": [0, 5, 10, 15], "titleX": -45, "titleY": 100}}
         },
         "layer": [
           {"data": {"name": "bCa"}, "mark": {"type": "line"}, "encoding": {"detail": {"field": "s"}}},
           {"data": {"name": "bCaDash"}, "mark": {"type": "line", "strokeDash": [3, 3]}},
           {"data": {"values": [{"t": -1.6, "v": 0, "v2": 15}]}, "mark": "rule", "encoding": {"y2": {"field": "v2"}}},
           {"data": {"values": [{"t": 0, "t2": 25, "v": -1.93}]}, "mark": "rule", "encoding": {"x2": {"field": "t2"}}},
           {"data": {"name": "bCaText"}, "mark": {"type": "text"}, "encoding": {"text": {"field": "label"}}}
         ]}
      ]}
    ]
  },
  {
    "spacing": 0,
    "hconcat": [
      {"width": 90, "height": 1, "view": {"fill": "white", "stroke": null}, "data": {"values": [{}]}, "mark": {"type": "point", "opacity": 0}},
      {"bounds": "flush", "spacing": 0,
       "title": {"text": "Fig. 5. For legend see facing page.", "orient": "bottom", "anchor": "middle", "frame": "bounds", "font": "DejaVu Serif", "fontSize": 14.5, "fontWeight": "normal", "color": "#000", "offset": 3, "dx": 42},
       "vconcat": [
        {"width": 269, "height": 150,
         "encoding": {
           "x": {"field": "t", "type": "quantitative", "scale": {"domain": [-1.71, 25.4], "nice": false, "zero": false}, "axis": null},
           "y": {"field": "v", "type": "quantitative", "scale": {"domain": [-9.65, 2.72], "nice": false, "zero": false}, "axis": {"title": "Current (pA)", "values": [0, -2, -4, -6, -8], "tickSize": 3, "labelPadding": 0, "titleX": -37, "titleY": 76}}
         },
         "layer": [
           {"data": {"name": "cCur"}, "mark": {"type": "line"}, "encoding": {"detail": {"field": "s"}}},
           {"data": {"values": [{"t": -1.71, "v": 0, "v2": -8}]}, "mark": "rule", "encoding": {"y2": {"field": "v2"}}},
           {"data": {"name": "cCurText"}, "mark": {"type": "text"}, "encoding": {"text": {"field": "label"}}},
           {"data": {"values": [{"t": -3.2, "v": 2.2, "label": "C"}]}, "mark": {"type": "text", "fontStyle": "italic"}, "encoding": {"text": {"field": "label"}}}
         ]},
        {"width": 269, "height": 128,
         "encoding": {
           "x": {"field": "t", "type": "quantitative", "scale": {"domain": [-1.71, 25.4], "nice": false, "zero": false}, "axis": null},
           "y": {"field": "v", "type": "quantitative", "scale": {"domain": [-1.82, 11.14], "nice": false, "zero": false}, "axis": {"title": ["Charge remaining", "(pC)"], "values": [0, 2, 4, 6, 8], "labelExpr": "datum.value % 4 === 0 ? datum.label : ''", "tickSize": 3, "labelPadding": 0, "titleX": -39, "titleY": 68}}
         },
         "layer": [
           {"data": {"name": "cQ"}, "mark": {"type": "line"}, "encoding": {"detail": {"field": "s"}}},
           {"data": {"values": [{"t": -1.71, "v": 0, "v2": 8}]}, "mark": "rule", "encoding": {"y2": {"field": "v2"}}}
         ]},
        {"width": 269, "height": 182,
         "encoding": {
           "x": {"field": "t", "type": "quantitative", "scale": {"domain": [-1.71, 25.4], "nice": false, "zero": false}, "axis": {"title": "Time (s)", "values": [0, 5, 10, 15, 20, 25], "labelExpr": "datum.value % 10 === 0 ? datum.label : ''", "titleY": 33}},
           "y": {"field": "v", "type": "quantitative", "scale": {"domain": [-1.93, 16.52], "nice": false, "zero": false}, "axis": {"title": "Free [Ca²⁺]ᵢ (μM)", "values": [0, 5, 10, 15], "tickSize": 3, "labelPadding": 0, "titleX": -35, "titleY": 90}}
         },
         "layer": [
           {"data": {"name": "cCa"}, "mark": {"type": "line"}, "encoding": {"detail": {"field": "s"}}},
           {"data": {"name": "cCaDash"}, "mark": {"type": "line", "strokeDash": [3, 3]}},
           {"data": {"values": [{"t": -1.71, "v": 0, "v2": 15}]}, "mark": "rule", "encoding": {"y2": {"field": "v2"}}},
           {"data": {"values": [{"t": 0, "t2": 25, "v": -1.93}]}, "mark": "rule", "encoding": {"x2": {"field": "t2"}}},
           {"data": {"name": "cCaText"}, "mark": {"type": "text"}, "encoding": {"text": {"field": "label"}}}
         ]}
      ]}
    ]
  }
]
}
